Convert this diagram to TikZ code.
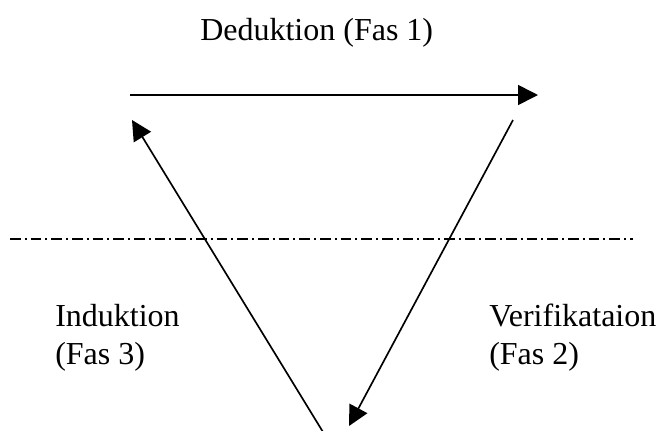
\documentclass[tikz,border=0pt]{standalone}
\usepackage{fontspec}
\setmainfont{Liberation Serif}
\usetikzlibrary{arrows.meta}
\begin{document}
\begin{tikzpicture}[x=0.75pt,y=-0.75pt,
  lbl/.style={anchor=base west,inner sep=0pt,font=\fontsize{24}{28}\selectfont},
  arr/.style={line width=1.25pt,-{Triangle[length=15pt,width=15pt]}},
  divider/.style={line width=1pt,dash pattern=on 8pt off 3pt on 1.5pt off 3pt}]
\useasboundingbox (0,0) rectangle (658,430);
% labels
\node[lbl] (ded) at (200,40) {Deduktion (Fas 1)};
\node[lbl] (ind) at (55,326) {Induktion};
\node[lbl] (ind2) at (55,364) {(Fas 3)};
\node[lbl] (ver) at (489,326) {Verifikataion};
\node[lbl] (ver2) at (489,364) {(Fas 2)};
% arrow endpoints
\coordinate (topL) at (130,95);
\coordinate (topR) at (538,95);
\coordinate (rStart) at (513,120);
\coordinate (rEnd) at (349,426);
\coordinate (lStart) at (323,432);
\coordinate (lEnd) at (132,120);
\coordinate (dL) at (10,239);
\coordinate (dR) at (633,239);
% connectors
\draw[arr] (topL) -- (topR);
\draw[arr] (rStart) -- (rEnd);
\draw[arr] (lStart) -- (lEnd);
\draw[divider] (dL) -- (dR);
\end{tikzpicture}
\end{document}
